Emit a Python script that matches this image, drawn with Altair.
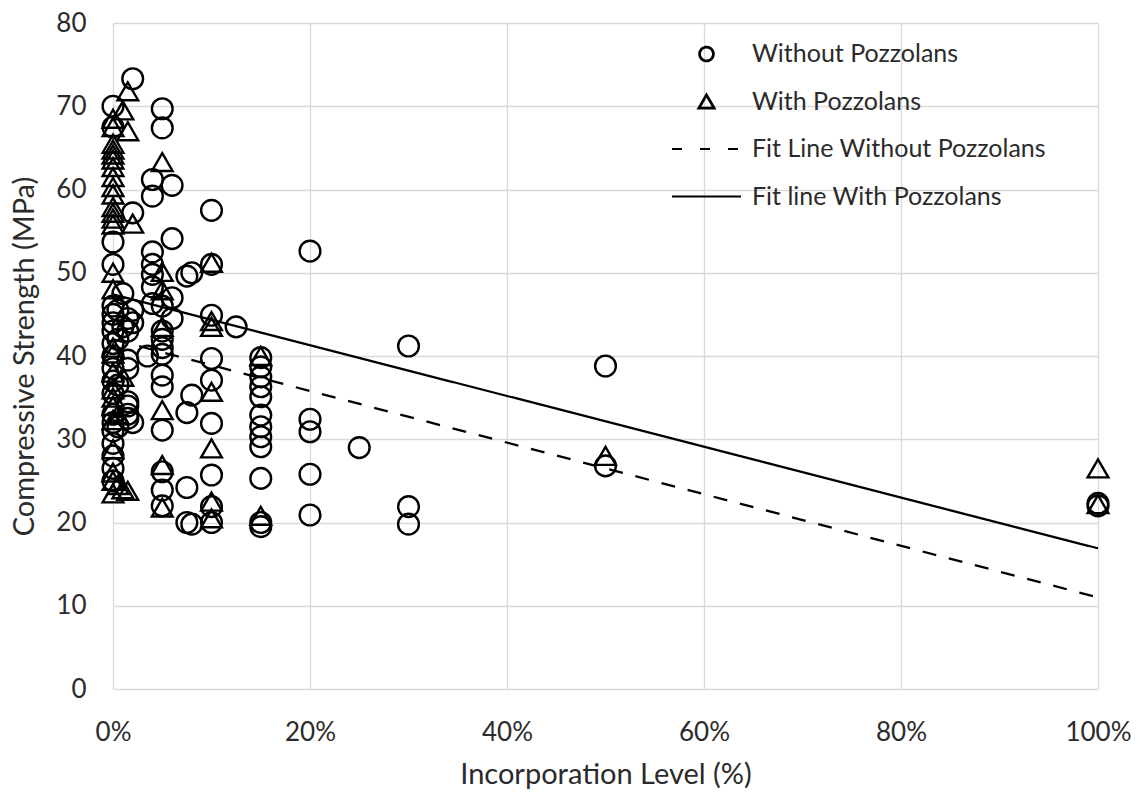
import altair as alt
import pandas as pd

# Series labels
S_WO = "Without Pozzolans"
S_W = "With Pozzolans"
F_WO = "Fit Line Without Pozzolans"
F_W = "Fit line With Pozzolans"

# Incorporation level (%) and compressive strength (MPa), mixes without pozzolans
wo_x = [0, 0, 0, 0, 0, 0, 0, 0, 0, 0, 0, 0, 0, 0, 0, 0, 0, 0, 0, 0,
        0.5, 0.5, 0.5, 0.5, 1, 1,
        1.5, 1.5, 1.5, 1.5, 1.5, 1.5, 1.5, 1.5,
        2, 2, 2, 2, 2,
        3.5, 4, 4, 4, 4, 4, 4, 4,
        5, 5, 5, 5, 5, 5, 5, 5, 5, 5, 5, 5, 5,
        6, 6, 6, 6,
        7.5, 7.5, 7.5, 7.5, 8, 8, 8,
        10, 10, 10, 10, 10, 10, 10, 10, 10,
        12.5,
        15, 15, 15, 15, 15, 15, 15, 15, 15, 15, 15, 15,
        20, 20, 20, 20, 20,
        25,
        30, 30, 30,
        50, 50,
        100, 100]
wo_y = [70.0, 67.5, 53.7, 51.0, 46.0, 45.0, 44.0, 43.0, 41.5, 40.0, 38.5, 37.0, 35.5, 33.0, 32.0, 31.0, 29.5, 28.0, 26.5, 25.0,
        45.5, 42.0, 36.5, 31.5, 47.5, 43.5,
        44.5, 43.0, 39.5, 38.5, 34.5, 34.0, 33.0, 32.5,
        73.3, 57.2, 45.5, 44.0, 32.0,
        40.0, 61.2, 59.2, 52.5, 51.0, 49.8, 48.3, 46.3,
        69.7, 67.4, 46.0, 43.0, 42.0, 41.0, 40.2, 37.7, 36.3, 31.1, 26.1, 23.9, 22.0,
        60.5, 54.1, 47.0, 44.5,
        49.6, 33.2, 24.2, 20.0, 50.0, 35.3, 19.8,
        57.5, 51.0, 44.9, 39.7, 37.1, 31.9, 25.7, 21.9, 20.0,
        43.5,
        39.8, 38.7, 37.5, 36.3, 35.1, 32.9, 31.5, 30.3, 29.1, 25.3, 20.0, 19.5,
        52.6, 32.4, 30.9, 25.8, 20.9,
        29.0,
        41.2, 21.9, 19.8,
        38.8, 26.8,
        22.3, 22.0]

# Mixes with pozzolans
w_x = [0, 0, 0, 0, 0, 0, 0, 0, 0, 0, 0, 0, 0, 0, 0, 0, 0, 0, 0, 0, 0, 0, 0, 0, 0, 0, 0,
       0.5, 0.5, 1, 1, 1, 1.5, 1.5, 1.5, 2,
       5, 5, 5, 5, 5, 5, 5,
       10, 10, 10, 10, 10, 10, 10,
       15, 15,
       50,
       100, 100]
w_y = [68.5, 67.5, 65.5, 64.8, 64.2, 63.6, 62.7, 61.5, 60.3, 59.4, 57.9, 57.2, 56.5, 55.8, 50.0, 48.0, 41.0, 40.3, 38.0, 36.0, 35.0, 34.0, 32.3, 28.8, 26.0, 25.0, 23.5,
       33.0, 24.5, 69.5, 37.5, 24.0, 71.8, 67.0, 23.8, 55.9,
       63.3, 50.1, 47.9, 43.5, 33.5, 26.9, 21.8,
       51.2, 44.2, 43.5, 35.7, 28.9, 22.5, 20.5,
       40.0, 20.8,
       28.0,
       26.5, 22.2]

# Linear fit end points
fit_x = [0, 100]
fit_wo = [42.0, 11.0]
fit_w = [47.4, 16.9]

# Axis ticks
x_ticks = [0, 20, 40, 60, 80, 100]
y_ticks = [0, 10, 20, 30, 40, 50, 60, 70, 80]

pts = pd.concat([
    pd.DataFrame({"level": wo_x, "strength": wo_y, "series": S_WO}),
    pd.DataFrame({"level": w_x, "strength": w_y, "series": S_W}),
])
fits = pd.concat([
    pd.DataFrame({"level": fit_x, "strength": fit_wo, "series": F_WO}),
    pd.DataFrame({"level": fit_x, "strength": fit_w, "series": F_W}),
])

all_series = [S_WO, S_W, F_WO, F_W]
FONT = "Lato"
INK = "#2b2b2b"

x_enc = alt.X("level:Q",
              scale=alt.Scale(domain=[0, 100], nice=False),
              axis=alt.Axis(values=x_ticks, labelExpr="datum.value + '%'",
                            labelFlush=False, title="Incorporation Level (%)"))
y_enc = alt.Y("strength:Q",
              scale=alt.Scale(domain=[0, 80], nice=False),
              axis=alt.Axis(values=y_ticks, labelFlush=False,
                            title="Compressive Strength (MPa)"))

is_line = f"(datum.value == '{F_WO}' || datum.value == '{F_W}')"

legend = alt.Legend(
    orient="none", legendX=581, legendY=18.5, title=None,
    labelFont=FONT, labelFontSize=25, labelColor=INK, labelOffset=33, labelLimit=0,
    rowPadding=21.5, symbolStrokeColor="black", symbolFillColor="transparent",
    symbolStrokeWidth={"expr": f"{is_line} ? 2.2 : 2.8"},
    symbolSize={"expr": f"{is_line} ? 4761 : (datum.value == '{S_W}' ? 230 : 190)"},
    symbolDash={"expr": f"datum.value == '{F_WO}' ? [10, 18] : [1, 0]"},
)

points = alt.Chart(pts).mark_point(filled=False, size=430, strokeWidth=2.4,
                                    color="black", opacity=1).encode(
    x=x_enc, y=y_enc,
    shape=alt.Shape("series:N",
                    scale=alt.Scale(domain=all_series,
                                    range=["circle", "triangle-up", "stroke", "stroke"]),
                    legend=legend),
)

lines = alt.Chart(fits).mark_line(color="black", strokeWidth=2.3).encode(
    x="level:Q", y="strength:Q",
    strokeDash=alt.StrokeDash("series:N",
                              scale=alt.Scale(domain=[F_WO, F_W], range=[[14, 13], [1, 0]]),
                              legend=None),
)

chart = alt.layer(points, lines).properties(
    width=985, height=666,
    autosize=alt.AutoSizeParams(type="none"),
    padding={"left": 113, "top": 23, "right": 46, "bottom": 107},
    background="white",
).configure_view(stroke=None).configure_axis(
    grid=True, gridColor="#d9d9d9", gridWidth=1.3,
    domain=False, ticks=False,
    labelFont=FONT, labelFontSize=26, labelColor=INK,
    titleFont=FONT, titleFontSize=29, titleColor=INK, titleFontWeight="normal",
).configure_axisX(labelPadding=30, titlePadding=15).configure_axisY(
    labelPadding=27, titlePadding=16)

chart.save("out.html", embed_options={"renderer": "svg", "actions": False})
